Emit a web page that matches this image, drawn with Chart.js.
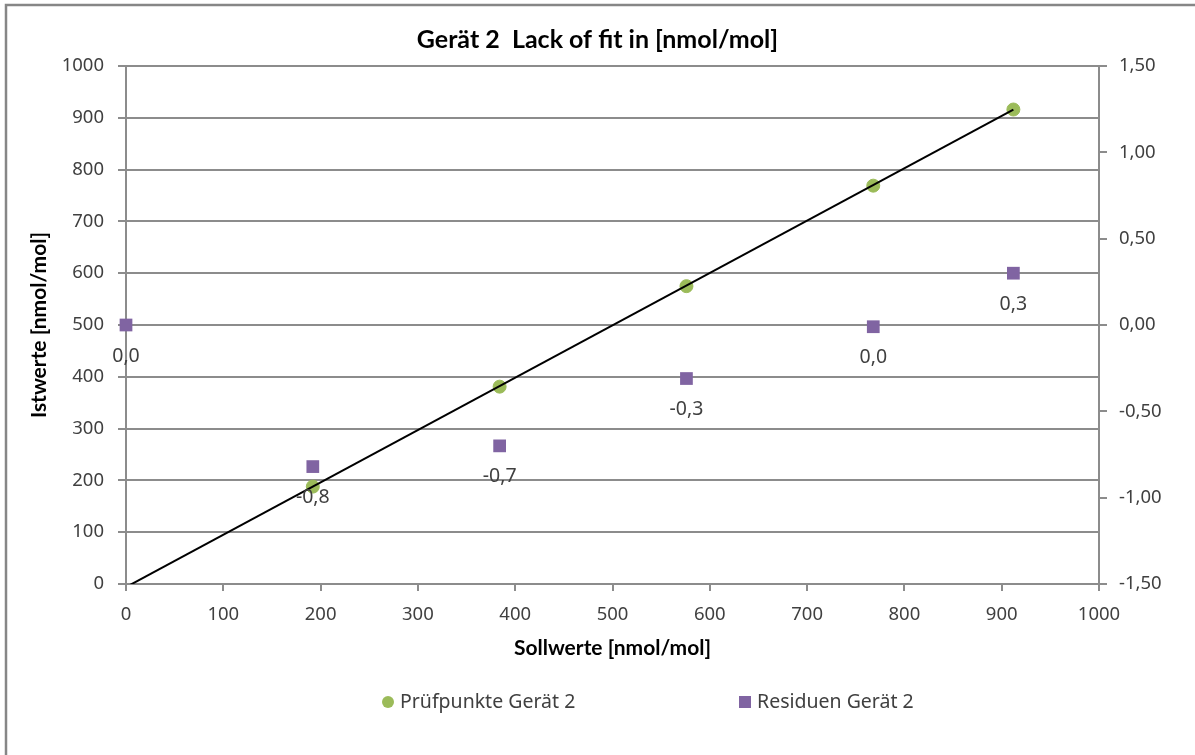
<!DOCTYPE html>
<html>
<head>
<meta charset="utf-8">
<script src="https://cdn.jsdelivr.net/npm/chart.js@4/dist/chart.umd.min.js"></script>
<style>
  html, body { margin: 0; padding: 0; background: #fff; }
  #wrap { width: 1195px; height: 755px; position: relative; }
</style>
</head>
<body>
<div id="wrap"><canvas id="chart" width="1195" height="755"></canvas></div>
<script>
// Sollwerte (x) und Istwerte (y) der Prüfpunkte
const pruefSoll = [192, 384, 576, 768, 912];
const pruefIst = [188, 381, 575, 769, 916];

// Residuen (rechte Achse)
const residSoll = [0, 192, 384, 576, 768, 912];
const residWerte = [0.0, -0.82, -0.70, -0.31, -0.01, 0.30];

// Ausgleichsgerade
const trendX = [0, 912];
const trendY = [-6, 916];

const titleText = 'Gerät 2  Lack of fit in [nmol/mol]';
const xTitle = 'Sollwerte [nmol/mol]';
const yTitle = 'Istwerte [nmol/mol]';
const legendNames = ['Prüfpunkte Gerät 2', 'Residuen Gerät 2'];

const green = '#9bbb59';
const purple = '#8064a2';
const gridCol = '#8c8c8c';
const textCol = '#404040';
const tickFont = { family: 'Noto Sans', size: 18.5 };
const labelFont = '19.5px "Noto Sans"';

const fmtComma = (v, d) => {
  if (Math.abs(v) < Math.pow(10, -d) / 2) v = 0;
  return v.toFixed(d).replace('.', ',');
};

const toPoints = (xs, ys) => xs.map((x, i) => ({ x: x, y: ys[i] }));

// Rahmen + Datenbeschriftungen + Legende
const extrasPlugin = {
  id: 'extras',
  beforeDraw(chart) {
    const ctx = chart.ctx;
    ctx.save();
    ctx.strokeStyle = '#868686';
    ctx.lineWidth = 2.5;
    ctx.beginPath();
    ctx.moveTo(chart.width, 5);
    ctx.lineTo(6, 5);
    ctx.lineTo(6, chart.height);
    ctx.stroke();
    ctx.restore();
  },
  afterDatasetsDraw(chart) {
    const ctx = chart.ctx;
    const meta = chart.getDatasetMeta(2);
    ctx.save();
    ctx.font = labelFont;
    ctx.fillStyle = textCol;
    ctx.textAlign = 'center';
    ctx.textBaseline = 'middle';
    meta.data.forEach((pt, i) => {
      ctx.fillText(fmtComma(residWerte[i], 1), pt.x, pt.y + 31);
    });
    ctx.restore();
  },
  afterDraw(chart) {
    const ctx = chart.ctx;
    const y = 702;
    ctx.save();
    ctx.font = labelFont;
    ctx.textBaseline = 'middle';
    ctx.textAlign = 'left';
    // Prüfpunkte
    ctx.fillStyle = green;
    ctx.beginPath();
    ctx.arc(388, y, 6, 0, Math.PI * 2);
    ctx.fill();
    ctx.fillStyle = textCol;
    ctx.fillText(legendNames[0], 400, y);
    // Residuen
    ctx.fillStyle = purple;
    ctx.fillRect(739, y - 6, 12, 12);
    ctx.fillStyle = textCol;
    ctx.fillText(legendNames[1], 757, y);
    ctx.restore();
  }
};

const ctx = document.getElementById('chart').getContext('2d');
new Chart(ctx, {
  type: 'scatter',
  data: {
    datasets: [
      {
        label: 'Trend',
        type: 'line',
        data: toPoints(trendX, trendY),
        borderColor: '#000',
        borderWidth: 2,
        pointRadius: 0,
        fill: false,
        yAxisID: 'y',
        order: 0
      },
      {
        label: legendNames[0],
        data: toPoints(pruefSoll, pruefIst),
        backgroundColor: green,
        borderColor: green,
        pointRadius: 6.5,
        pointStyle: 'circle',
        yAxisID: 'y',
        clip: false,
        order: 1
      },
      {
        label: legendNames[1],
        data: toPoints(residSoll, residWerte),
        backgroundColor: purple,
        borderColor: purple,
        borderWidth: 0,
        pointRadius: 9,
        pointStyle: 'rect',
        yAxisID: 'y2',
        clip: false,
        order: 2
      }
    ]
  },
  options: {
    responsive: false,
    animation: false,
    layout: { padding: { top: 5, left: 8, right: 8, bottom: 90 } },
    plugins: {
      legend: { display: false },
      tooltip: { enabled: false },
      title: {
        display: true,
        text: titleText,
        color: '#000',
        font: { family: 'Lato', size: 25, weight: 'bold' },
        padding: { top: 20, bottom: 11 }
      }
    },
    scales: {
      x: {
        type: 'linear',
        min: 0,
        max: 1000,
        ticks: { stepSize: 100, color: textCol, font: tickFont, padding: 13, callback: (v) => String(v) },
        grid: { drawOnChartArea: false, color: gridCol, lineWidth: 2, tickLength: 7 },
        border: { color: gridCol, width: 2 },
        title: {
          display: true,
          text: xTitle,
          color: '#000',
          font: { family: 'Lato', size: 21, weight: 'bold' },
          padding: { top: 4 }
        },
        afterFit(scale) { scale.height = 81; }
      },
      y: {
        position: 'left',
        min: 0,
        max: 1000,
        ticks: { stepSize: 100, color: textCol, font: tickFont, padding: 14, callback: (v) => String(v) },
        grid: { color: gridCol, lineWidth: 2, tickLength: 8 },
        border: { color: gridCol, width: 2 },
        title: {
          display: true,
          text: yTitle,
          color: '#000',
          font: { family: 'Lato', size: 21, weight: 'bold' },
          padding: { top: 19, bottom: 4 }
        },
        afterFit(scale) { scale.width = 118; }
      },
      y2: {
        position: 'right',
        min: -1.5,
        max: 1.5,
        ticks: {
          stepSize: 0.5,
          color: textCol,
          font: tickFont,
          padding: 12,
          callback: (v) => fmtComma(v, 2)
        },
        grid: { drawOnChartArea: false, color: gridCol, lineWidth: 2, tickLength: 8 },
        border: { color: gridCol, width: 2 },
        afterFit(scale) { scale.width = 88; }
      }
    }
  },
  plugins: [extrasPlugin]
});
</script>
</body>
</html>
